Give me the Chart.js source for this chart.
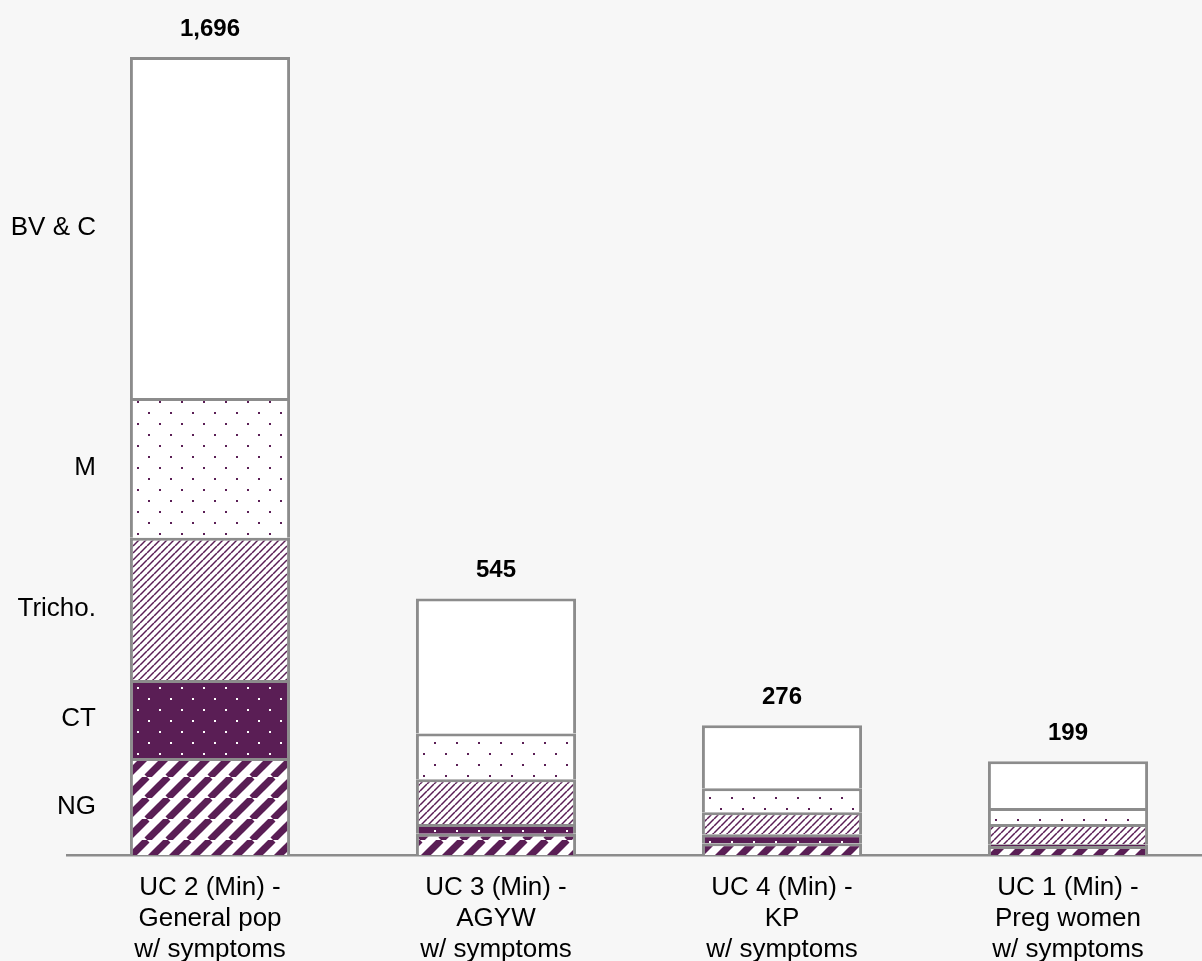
<!DOCTYPE html>
<html>
<head>
<meta charset="utf-8">
<script src="https://cdn.jsdelivr.net/npm/chart.js@4.4.1/dist/chart.umd.min.js"></script>
<style>
    html, body { margin: 0; padding: 0; background: #f7f7f7; overflow: hidden; }
    #wrap { width: 1211px; height: 961px; position: relative; }
</style>
</head>
<body>
<div id="wrap"><canvas id="mixChart"></canvas></div>
<script>
// Use cases (x axis), split into lines as shown under each bar
const categories = [
    ['UC 2 (Min) -', 'General pop', 'w/ symptoms'],
    ['UC 3 (Min) -', 'AGYW', 'w/ symptoms'],
    ['UC 4 (Min) -', 'KP', 'w/ symptoms'],
    ['UC 1 (Min) -', 'Preg women', 'w/ symptoms']
];
const segmentNames = ['NG', 'CT', 'Tricho.', 'M', 'BV & C'];

// Segment values per use case (bottom to top)
const ngValues = [206, 45, 25, 19];
const ctValues = [166, 21, 19, 4];
const trichoValues = [302, 95, 47, 43];
const mValues = [297, 97, 51, 34];
const bvcValues = [725, 287, 134, 99];

const purple = '#5a1e55';
const edgeGray = '#8c8c8c';
const fontFamily = '"Liberation Sans", Arial, sans-serif';

// Build a repeating canvas pattern
function makePattern(size, draw) {
    const tile = document.createElement('canvas');
    tile.width = size;
    tile.height = size;
    const g = tile.getContext('2d');
    draw(g, size);
    return g.createPattern(tile, 'repeat');
}

function stripes(size, width) {
    return makePattern(size, (g, s) => {
        g.fillStyle = '#ffffff';
        g.fillRect(0, 0, s, s);
        g.strokeStyle = purple;
        g.lineWidth = width;
        for (let k = -1; k <= 1; k++) {
            g.beginPath();
            g.moveTo(k * s, s);
            g.lineTo(k * s + s, 0);
            g.stroke();
        }
    });
}

function dots(size, bg, fg) {
    return makePattern(size, (g, s) => {
        g.fillStyle = bg;
        g.fillRect(0, 0, s, s);
        g.fillStyle = fg;
        g.fillRect(5, 5, 2, 2);
        g.fillRect(5 + s / 2, 5 + s / 2, 2, 2);
    });
}

const fills = [
    stripes(21, 7),
    dots(22, purple, '#ffffff'),
    stripes(7, 1.5),
    dots(22, '#ffffff', purple),
    '#ffffff'
];

const seriesValues = [ngValues, ctValues, trichoValues, mValues, bvcValues];

// Segment names beside the first bar, and totals above each bar
const annotatePlugin = {
    id: 'annotate',
    afterDatasetsDraw(chart) {
        const ctx = chart.ctx;
        const y = chart.scales.y;
        ctx.save();
        ctx.fillStyle = '#000';
        ctx.font = '26px ' + fontFamily;
        ctx.textAlign = 'right';
        ctx.textBaseline = 'middle';
        chart.data.datasets.forEach((ds, i) => {
            const el = chart.getDatasetMeta(i).data[0];
            ctx.fillText(ds.label, chart.chartArea.left + 29, (el.y + el.base) / 2);
        });

        ctx.font = 'bold 24px ' + fontFamily;
        ctx.textAlign = 'center';
        categories.forEach((c, j) => {
            const total = seriesValues.reduce((s, arr) => s + arr[j], 0);
            const x = chart.getDatasetMeta(0).data[j].x;
            ctx.fillText(total.toLocaleString('en-US'), x, y.getPixelForValue(total) - 28);
        });
        ctx.restore();
    }
};

const ctx = document.getElementById('mixChart').getContext('2d');
new Chart(ctx, {
    type: 'bar',
    data: {
        labels: categories,
        datasets: segmentNames.map((name, i) => ({
            label: name,
            data: seriesValues[i],
            backgroundColor: fills[i],
            borderColor: edgeGray,
            borderWidth: 3,
            categoryPercentage: 1,
            barPercentage: 0.56
        }))
    },
    options: {
        responsive: true,
        maintainAspectRatio: false,
        animation: false,
        layout: {
            padding: { left: 67, top: 8, right: 0, bottom: 0 }
        },
        plugins: {
            legend: { display: false },
            tooltip: { enabled: false }
        },
        scales: {
            x: {
                stacked: true,
                grid: { display: false },
                border: { display: true, color: edgeGray, width: 2.5 },
                ticks: {
                    color: '#000',
                    padding: 9,
                    font: { family: fontFamily, size: 26, lineHeight: 1.2 }
                },
                afterFit: function(scale) {
                    scale.height = 106;
                }
            },
            y: {
                stacked: true,
                display: false,
                min: 0,
                max: 1800
            }
        }
    },
    plugins: [annotatePlugin]
});
</script>
</body>
</html>
